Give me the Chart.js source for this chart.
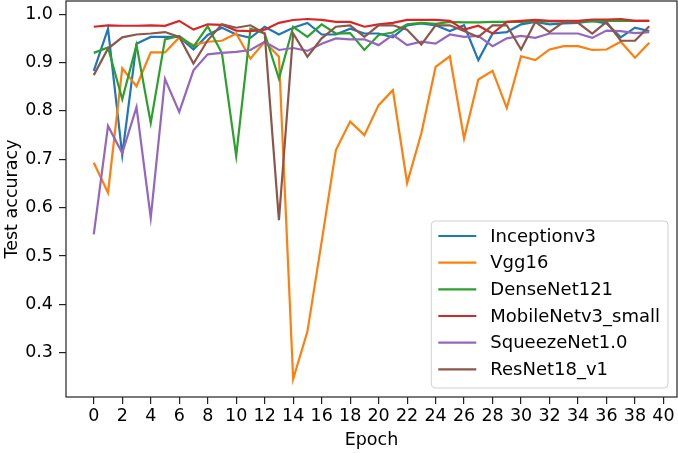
<!DOCTYPE html>
<html>
<head>
<meta charset="utf-8">
<script src="https://cdn.jsdelivr.net/npm/chart.js@4.4.0/dist/chart.umd.min.js"></script>
<style>
  html, body { margin: 0; padding: 0; background: #fff; }
  #wrap { width: 678px; height: 453px; }
</style>
</head>
<body>
<div id="wrap"><canvas id="chart" width="678" height="453"></canvas></div>
<script>
// values
const epochs = [
  0, 1, 2, 3, 4, 5, 6, 7, 8, 9,
  10, 11, 12, 13, 14, 15, 16, 17, 18, 19,
  20, 21, 22, 23, 24, 25, 26, 27, 28, 29,
  30, 31, 32, 33, 34, 35, 36, 37, 38, 39
];
const inceptionV3 = [
  0.883, 0.970, 0.709, 0.939, 0.953, 0.953, 0.953, 0.927, 0.957, 0.972,
  0.958, 0.951, 0.974, 0.958, 0.972, 0.982, 0.958, 0.958, 0.970, 0.960,
  0.960, 0.952, 0.977, 0.981, 0.977, 0.965, 0.977, 0.905, 0.960, 0.963,
  0.979, 0.984, 0.979, 0.981, 0.982, 0.986, 0.981, 0.952, 0.972, 0.965
];
const vgg16 = [
  0.693, 0.631, 0.888, 0.851, 0.921, 0.921, 0.952, 0.936, 0.943, 0.945,
  0.960, 0.908, 0.943, 0.912, 0.246, 0.344, 0.530, 0.719, 0.778, 0.750,
  0.812, 0.843, 0.651, 0.754, 0.891, 0.913, 0.743, 0.865, 0.883, 0.806,
  0.913, 0.905, 0.927, 0.934, 0.934, 0.926, 0.927, 0.943, 0.910, 0.941
];
const denseNet121 = [
  0.920, 0.931, 0.824, 0.936, 0.775, 0.948, 0.955, 0.933, 0.975, 0.919,
  0.707, 0.970, 0.960, 0.867, 0.974, 0.953, 0.979, 0.960, 0.961, 0.926,
  0.957, 0.962, 0.979, 0.982, 0.980, 0.984, 0.983, 0.983, 0.984, 0.984,
  0.984, 0.985, 0.985, 0.985, 0.985, 0.985, 0.986, 0.986, 0.986, 0.986
];
const mobileNetV3Small = [
  0.974, 0.977, 0.976, 0.976, 0.977, 0.976, 0.986, 0.968, 0.979, 0.978,
  0.966, 0.965, 0.968, 0.982, 0.988, 0.990, 0.988, 0.984, 0.984, 0.974,
  0.979, 0.982, 0.988, 0.988, 0.988, 0.986, 0.968, 0.976, 0.960, 0.984,
  0.986, 0.988, 0.986, 0.986, 0.986, 0.989, 0.989, 0.990, 0.986, 0.986
];
const squeezeNet10 = [
  0.545, 0.769, 0.713, 0.808, 0.579, 0.866, 0.798, 0.884, 0.917, 0.920,
  0.922, 0.926, 0.943, 0.926, 0.930, 0.924, 0.939, 0.950, 0.948, 0.948,
  0.936, 0.957, 0.936, 0.943, 0.939, 0.958, 0.953, 0.955, 0.934, 0.950,
  0.955, 0.951, 0.960, 0.960, 0.960, 0.951, 0.966, 0.965, 0.961, 0.963
];
const resNet18 = [
  0.874, 0.929, 0.952, 0.958, 0.960, 0.963, 0.953, 0.898, 0.946, 0.979,
  0.972, 0.977, 0.960, 0.574, 0.960, 0.912, 0.950, 0.974, 0.977, 0.953,
  0.977, 0.977, 0.968, 0.937, 0.977, 0.977, 0.965, 0.953, 0.977, 0.977,
  0.927, 0.984, 0.963, 0.984, 0.982, 0.960, 0.984, 0.945, 0.945, 0.975
];
const seriesNames = ['Inceptionv3', 'Vgg16', 'DenseNet121', 'MobileNetv3_small', 'SqueezeNet1.0', 'ResNet18_v1'];
const seriesValues = [inceptionV3, vgg16, denseNet121, mobileNetV3Small, squeezeNet10, resNet18];
const colors = ['#1f77b4', '#ff7f0e', '#2ca02c', '#d62728', '#9467bd', '#8c564b'];
const xTicks = [0, 2, 4, 6, 8, 10, 12, 14, 16, 18, 20, 22, 24, 26, 28, 30, 32, 34, 36, 38, 40];
const yTicks = [0.3, 0.4, 0.5, 0.6, 0.7, 0.8, 0.9, 1.0];

const FONT = 'DejaVu Sans';
const FSIZE = 17.5;
const LEGEND_FSIZE = 18;

// matplotlib-like box around the axes plus the legend inside the plot
const framePlugin = {
  id: 'frame',
  afterDatasetsDraw(chart) {
    const { ctx, chartArea: a } = chart;
    ctx.save();
    ctx.strokeStyle = '#222';
    ctx.lineWidth = 1.2;
    ctx.strokeRect(a.left, a.top, a.right - a.left, a.bottom - a.top);
    ctx.restore();
  },
  afterDraw(chart) {
    const { ctx, chartArea: a } = chart;
    ctx.save();
    ctx.font = LEGEND_FSIZE + 'px "' + FONT + '"';
    let maxW = 0;
    seriesNames.forEach(n => { maxW = Math.max(maxW, ctx.measureText(n).width); });
    const w = 59 + maxW + 8;
    const h = 167;
    const right = a.right - 9, bottom = a.bottom - 9;
    const left = right - w, top = bottom - h;
    const r = 4;
    ctx.beginPath();
    ctx.moveTo(left + r, top);
    ctx.lineTo(right - r, top);
    ctx.arcTo(right, top, right, top + r, r);
    ctx.lineTo(right, bottom - r);
    ctx.arcTo(right, bottom, right - r, bottom, r);
    ctx.lineTo(left + r, bottom);
    ctx.arcTo(left, bottom, left, bottom - r, r);
    ctx.lineTo(left, top + r);
    ctx.arcTo(left, top, left + r, top, r);
    ctx.closePath();
    ctx.fillStyle = 'rgba(255,255,255,0.8)';
    ctx.fill();
    ctx.strokeStyle = '#d0d0d0';
    ctx.lineWidth = 1;
    ctx.stroke();
    ctx.textBaseline = 'middle';
    ctx.textAlign = 'left';
    seriesNames.forEach((n, i) => {
      const y = top + 15 + i * 26.67;
      ctx.strokeStyle = colors[i];
      ctx.lineWidth = 2.2;
      ctx.beginPath();
      ctx.moveTo(left + 7, y);
      ctx.lineTo(left + 45, y);
      ctx.stroke();
      ctx.fillStyle = '#000';
      ctx.fillText(n, left + 59, y + 1);
    });
    ctx.restore();
  }
};

const datasets = seriesNames.map((name, i) => ({
  label: name,
  data: epochs.map((e, j) => ({ x: e, y: seriesValues[i][j] })),
  borderColor: colors[i],
  backgroundColor: colors[i],
  borderWidth: 2.2,
  pointRadius: 0,
  tension: 0,
  fill: false,
  order: seriesNames.length - i
}));

new Chart(document.getElementById('chart'), {
  type: 'line',
  data: { datasets },
  options: {
    responsive: false,
    animation: false,
    devicePixelRatio: 1,
    layout: { padding: { left: 0, right: 1, top: 1, bottom: 0 } },
    plugins: {
      legend: { display: false },
      tooltip: { enabled: false }
    },
    scales: {
      x: {
        type: 'linear',
        min: -1.95,
        max: 40.95,
        afterBuildTicks: s => { s.ticks = xTicks.map(v => ({ value: v })); },
        afterFit: s => { s.height = 56; s.paddingLeft = 0; s.paddingRight = 0; },
        border: { display: false },
        grid: { drawOnChartArea: false, drawTicks: true, tickLength: 7, color: '#222', lineWidth: 1.2 },
        ticks: { color: '#000', font: { family: FONT, size: FSIZE }, padding: 2, maxRotation: 0, autoSkip: false },
        title: { display: true, text: 'Epoch', color: '#000', font: { family: FONT, size: FSIZE }, padding: { top: 0, bottom: 2 } }
      },
      y: {
        min: 0.2088,
        max: 1.0272,
        afterBuildTicks: s => { s.ticks = yTicks.map(v => ({ value: v })); },
        afterFit: s => { s.width = 66; s.paddingTop = 0; s.paddingBottom = 0; },
        border: { display: false },
        grid: { drawOnChartArea: false, drawTicks: true, tickLength: 7, color: '#222', lineWidth: 1.2 },
        ticks: { color: '#000', font: { family: FONT, size: FSIZE }, padding: 6, callback: v => v.toFixed(1) },
        title: { display: true, text: 'Test accuracy', color: '#000', font: { family: FONT, size: FSIZE }, padding: { top: 2, bottom: 0 } }
      }
    }
  },
  plugins: [framePlugin]
});
</script>
</body>
</html>
